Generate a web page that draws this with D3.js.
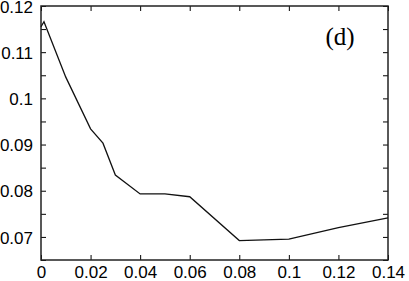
<!DOCTYPE html>
<html>
<head>
<meta charset="UTF-8">
<title>(d)</title>
<style>
  body { margin: 0; background: #fff; }
  .tick text { font: 17px "Liberation Sans", Arial, sans-serif; fill: #000; }
</style>
</head>
<body>
<script src="https://d3js.org/d3.v7.min.js"></script>
<script>
var xs = [0, 0.0012, 0.01, 0.02, 0.025, 0.03, 0.04, 0.05, 0.06, 0.08, 0.1, 0.12, 0.14];
var ys = [0.1155, 0.1166, 0.1046, 0.0934, 0.0903, 0.0834, 0.0793, 0.0793, 0.0787, 0.0692, 0.0695, 0.072, 0.0741];
var xTicks = [0, 0.02, 0.04, 0.06, 0.08, 0.1, 0.12, 0.14];
var yTicks = [0.07, 0.08, 0.09, 0.1, 0.11, 0.12];
var yMinor = [0.065, 0.075, 0.085, 0.095, 0.105, 0.115];
var panelLabel = "(d)";

var width = 409, height = 281;
var padL = 41, padR = 388, padT = 6, padB = 260;

var svg = d3.select("body").append("svg").attr("width", width).attr("height", height);

var x = d3.scaleLinear().domain([0, 0.14]).range([padL, padR]);
var y = d3.scaleLinear().domain([0.065, 0.12]).range([padB, padT]);

var fmt = function(d) { return String(+d.toFixed(3)); };

// bottom axis, ticks pointing inward
svg.append("g")
  .attr("transform", "translate(0," + padB + ")")
  .call(d3.axisBottom(x).tickValues(xTicks).tickSizeInner(-5).tickSizeOuter(0).tickPadding(6).tickFormat(fmt))
  .call(function(g) { g.select(".domain").remove(); g.selectAll("text").attr("dy", "0.7em"); });

svg.append("g")
  .attr("transform", "translate(0," + padT + ")")
  .call(d3.axisTop(x).tickValues(xTicks).tickSizeInner(-5).tickSizeOuter(0).tickFormat(""))
  .call(function(g) { g.select(".domain").remove(); });

svg.append("g")
  .attr("transform", "translate(" + padL + ",0)")
  .call(d3.axisLeft(y).tickValues(yTicks.concat(yMinor)).tickSizeInner(-5).tickSizeOuter(0).tickPadding(8)
    .tickFormat(function(d) { return yTicks.indexOf(d) >= 0 ? fmt(d) : ""; }))
  .call(function(g) { g.select(".domain").remove(); g.selectAll("text").attr("dy", "0.36em"); });

svg.append("g")
  .attr("transform", "translate(" + padR + ",0)")
  .call(d3.axisRight(y).tickValues(yTicks.concat(yMinor)).tickSizeInner(-5).tickSizeOuter(0).tickFormat(""))
  .call(function(g) { g.select(".domain").remove(); });

svg.selectAll(".tick line").attr("stroke", "#000").attr("stroke-width", 1);

// frame
svg.append("rect")
  .attr("x", padL).attr("y", padT)
  .attr("width", padR - padL).attr("height", padB - padT)
  .attr("fill", "none").attr("stroke", "#222").attr("stroke-width", 1.5);

var pts = xs.map(function(d, i) { return [d, ys[i]]; });
var line = d3.line()
  .x(function(d) { return x(d[0]); })
  .y(function(d) { return y(d[1]); });

svg.append("path")
  .datum(pts)
  .attr("fill", "none")
  .attr("stroke", "#111")
  .attr("stroke-width", 1.3)
  .attr("d", line);

svg.append("text")
  .attr("x", 340).attr("y", 45)
  .attr("text-anchor", "middle")
  .style("font", "25px 'Liberation Serif', 'Times New Roman', serif")
  .text(panelLabel);
</script>
</body>
</html>
